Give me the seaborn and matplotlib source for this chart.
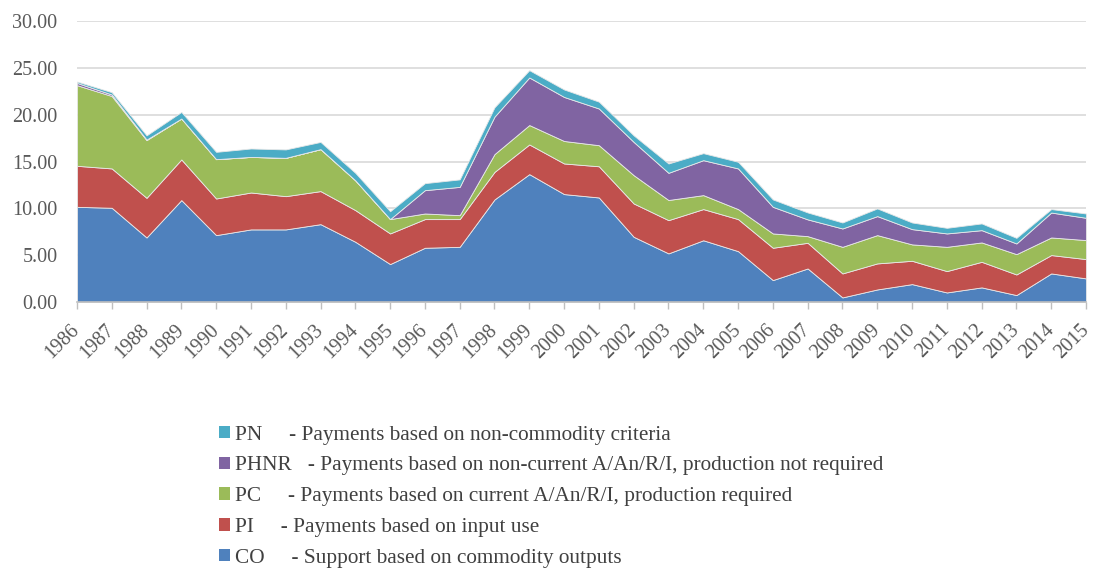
import numpy as np
import pandas as pd
import matplotlib
matplotlib.use("Agg")
import matplotlib.pyplot as plt
from matplotlib.patches import Patch
import seaborn as sns

years = list(range(1986, 2016))
co = [10.17, 10.07, 6.90, 10.89, 7.15, 7.76, 7.76, 8.32, 6.44, 4.06,
      5.80, 5.90, 10.96, 13.66, 11.53, 11.17, 6.97, 5.20, 6.60, 5.44,
      2.35, 3.59, 0.50, 1.35, 1.92, 1.03, 1.57, 0.75, 3.06, 2.53]
pi = [4.38, 4.20, 4.23, 4.34, 3.91, 3.94, 3.55, 3.53, 3.38, 3.27,
      3.06, 2.96, 2.94, 3.17, 3.27, 3.33, 3.56, 3.55, 3.33, 3.42,
      3.45, 2.74, 2.56, 2.78, 2.49, 2.28, 2.73, 2.20, 1.96, 2.06]
pc = [8.61, 7.73, 6.16, 4.37, 4.20, 3.80, 4.09, 4.48, 3.18, 1.53,
      0.60, 0.42, 1.90, 2.07, 2.40, 2.25, 3.02, 2.15, 1.49, 1.07,
      1.53, 0.71, 2.84, 3.02, 1.75, 2.59, 2.07, 2.17, 1.88, 2.03]
phnr = [0.24, 0.16, 0.06, 0.00, 0.00, 0.00, 0.00, 0.00, 0.00, 0.00,
        2.49, 3.02, 4.00, 5.08, 4.70, 3.92, 3.55, 2.90, 3.73, 4.34,
        2.84, 1.79, 1.96, 2.03, 1.63, 1.43, 1.31, 1.14, 2.66, 2.38]
pn = [0.15, 0.25, 0.45, 0.70, 0.78, 0.90, 0.90, 0.77, 0.80, 0.84,
      0.75, 0.80, 1.00, 0.78, 0.80, 0.73, 0.70, 1.00, 0.75, 0.71,
      0.79, 0.74, 0.64, 0.82, 0.71, 0.60, 0.72, 0.60, 0.37, 0.46]

series_names = ["CO", "PI", "PC", "PHNR", "PN"]
series_desc = ["- Support based on commodity outputs",
               "- Payments based on input use",
               "- Payments based on current A/An/R/I, production required",
               "- Payments based on non-current A/An/R/I, production not required",
               "- Payments based on non-commodity criteria"]
colors = ["#4F81BD", "#C0504D", "#9BBB59", "#8064A2", "#4BACC6"]

df = pd.DataFrame({"year": years, "CO": co, "PI": pi, "PC": pc, "PHNR": phnr, "PN": pn})

sns.set_theme(style="white")
plt.rcParams["font.family"] = ["Liberation Serif", "DejaVu Serif"]

fig = plt.figure(figsize=(10.93, 5.70), dpi=100)
ax = fig.add_axes([0.0704, 0.470, 0.9232, 0.493])

ax.stackplot(df["year"], [df[s] for s in series_names], colors=colors,
             edgecolor="#E8E8E8", linewidth=0.6, zorder=2)

ax.set_xlim(1986, 2015)
ax.set_ylim(0, 30)
ax.set_yticks(np.arange(0, 31, 5))
ax.set_yticklabels([f"{v:.2f}" for v in np.arange(0, 31, 5)])
ax.yaxis.grid(True, color="#D9D9D9", linewidth=1.2, zorder=0)
ax.xaxis.grid(False)
ax.set_axisbelow(True)
ax.set_xticks(years)
ax.set_xticklabels([str(y) for y in years], rotation=45, ha="right",
                   va="center", rotation_mode="anchor")
for sp in ["top", "right", "left"]:
    ax.spines[sp].set_visible(False)
ax.spines["bottom"].set_color("#BFBFBF")
ax.spines["bottom"].set_linewidth(1.2)
ax.tick_params(axis="x", which="both", bottom=True, length=5, width=1,
               color="#BFBFBF", labelsize=14.5, labelcolor="#595959", pad=13)
ax.tick_params(axis="y", left=False, labelsize=14.5, labelcolor="#595959", pad=8)
ax.set_xlabel("")
ax.set_ylabel("")

pads = {"PN": "PN     ", "PHNR": "PHNR   ", "PC": "PC     ", "PI": "PI     ", "CO": "CO     "}
handles = []
labels = []
for name, desc, col in reversed(list(zip(series_names, series_desc, colors))):
    handles.append(Patch(facecolor=col, edgecolor="none"))
    labels.append(pads[name] + desc)

fig.legend(handles, labels, loc="upper left", bbox_to_anchor=(0.191, 0.272),
           frameon=False, fontsize=15.3, labelcolor="#404040",
           handlelength=0.52, handleheight=0.52, handletextpad=0.2,
           labelspacing=0.555, borderpad=0)

fig.savefig("out.png", dpi=100)
